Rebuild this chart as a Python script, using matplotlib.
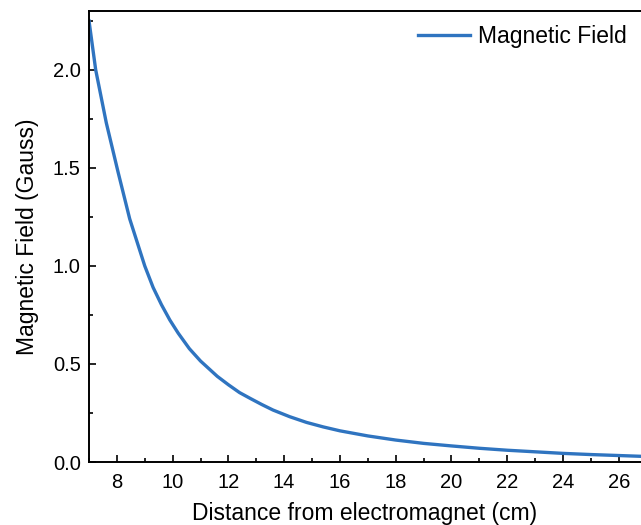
import matplotlib
matplotlib.use("Agg")
import matplotlib.pyplot as plt
from matplotlib.ticker import MultipleLocator

# values
distance = [7.0, 7.24, 7.62, 8.04, 8.46, 9.0, 9.3, 9.6, 9.9, 10.2, 10.6,
            11.0, 11.6, 12.0, 12.4, 12.8, 13.2, 13.6, 14.2, 14.8, 15.4, 16.0,
            17.0, 18.0, 19.0, 20.0, 21.0, 22.0, 23.0, 24.0, 25.0, 26.0, 26.8]
field = [2.25, 2.00, 1.73, 1.48, 1.24, 1.00, 0.89, 0.802, 0.724, 0.657,
         0.578, 0.515, 0.437, 0.394, 0.354, 0.323, 0.293, 0.265, 0.231, 0.202,
         0.179, 0.159, 0.133, 0.112, 0.095, 0.082, 0.070, 0.060, 0.052, 0.044,
         0.038, 0.033, 0.029]

x_ticks = [8, 10, 12, 14, 16, 18, 20, 22, 24, 26]
y_ticks = [0.0, 0.5, 1.0, 1.5, 2.0]

plt.rcParams['font.family'] = ['Liberation Sans', 'DejaVu Sans']

fig = plt.figure(figsize=(6.41, 5.25), dpi=100)
ax = fig.add_axes([89 / 641, 63 / 525, 1 - 89 / 641, (462 - 11) / 525])

ax.plot(distance, field, color='#2f74c0', lw=2.4, label='Magnetic Field',
        solid_joinstyle='round')

ax.set_xlim(7, 26.8)
ax.set_ylim(0, 2.3)
ax.set_xticks(x_ticks)
ax.set_yticks(y_ticks)
ax.set_yticklabels([f'{v:.1f}' for v in y_ticks])
ax.xaxis.set_minor_locator(MultipleLocator(1))
ax.yaxis.set_minor_locator(MultipleLocator(0.25))
ax.tick_params(which='both', direction='in', width=1.2, labelsize=14.5, pad=6)
ax.tick_params(which='major', length=5)
ax.tick_params(which='minor', length=3)
ax.tick_params(axis='x', pad=8)

for side in ['left', 'bottom', 'top']:
    ax.spines[side].set_linewidth(1.4)
ax.spines['right'].set_visible(False)

ax.set_xlabel('Distance from electromagnet (cm)', fontsize=16.5, labelpad=7)
ax.set_ylabel('Magnetic Field (Gauss)', fontsize=16.5, labelpad=10)

ax.legend(loc='upper right', frameon=False, fontsize=16.5, handlelength=2.3,
          handletextpad=0.35, borderaxespad=0.3, borderpad=0.3)

fig.savefig('out.png', dpi=100)
